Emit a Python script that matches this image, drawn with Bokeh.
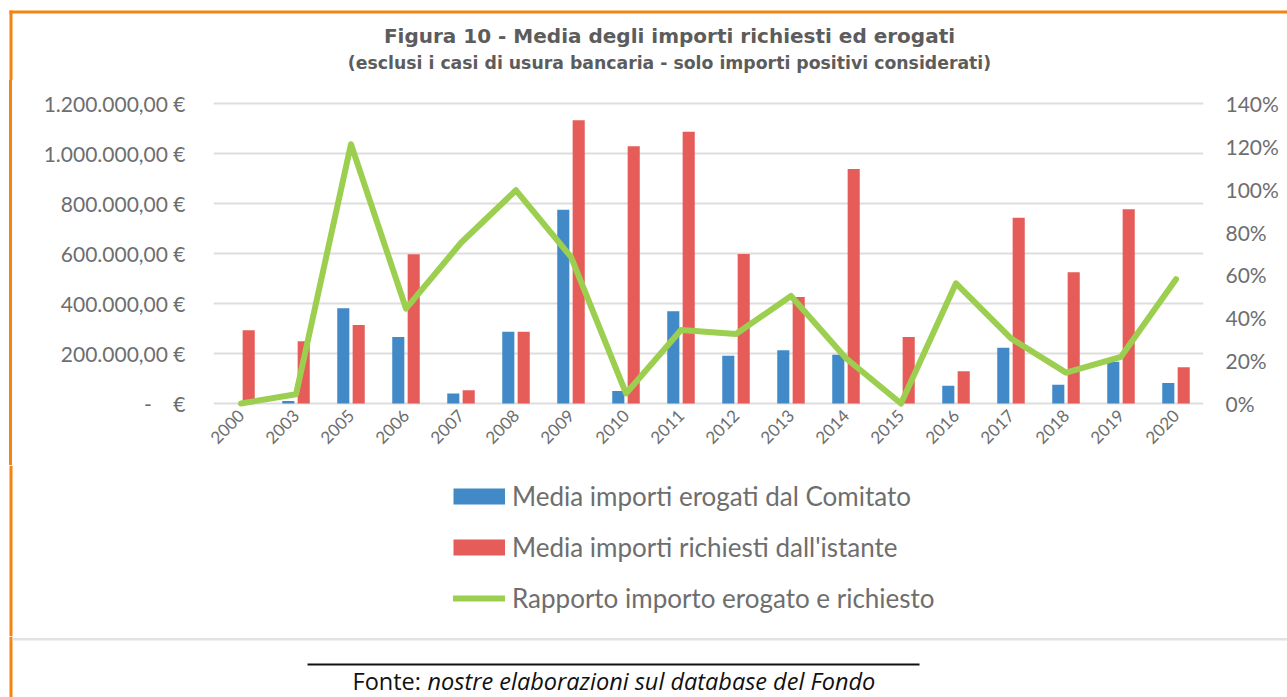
import math
from bokeh.plotting import figure
from bokeh.layouts import column, row
from bokeh.models import (FactorRange, Range1d, LinearAxis, FixedTicker, Legend,
                          LegendItem, ColumnDataSource, Div)
from bokeh.transform import dodge
from bokeh.core.properties import value
from bokeh.embed import file_html
from bokeh.resources import INLINE

# ---------------- data ----------------
years = ["2000", "2003", "2005", "2006", "2007", "2008", "2009", "2010", "2011",
         "2012", "2013", "2014", "2015", "2016", "2017", "2018", "2019", "2020"]
erogati = [0, 10000, 381000, 266000, 40000, 287000, 775000, 50000, 369000,
           191000, 213000, 195000, 0, 71000, 223000, 75000, 167000, 82000]
richiesti = [293000, 249000, 314000, 597000, 53000, 287000, 1133000, 1029000, 1087000,
             598000, 426000, 938000, 266000, 129000, 743000, 525000, 777000, 145000]
rapporto = [0, 4.3, 121, 44.3, 75, 99.5, 68.4, 4.7, 34.3,
            32.4, 50.2, 21.1, 0, 56.1, 30.4, 14.4, 21.8, 58]

left_ticks = [0, 200000, 400000, 600000, 800000, 1000000, 1200000]
left_tick_labels = ["-\u00a0\u00a0\u00a0\u00a0€", "200.000,00 €", "400.000,00 €",
                    "600.000,00 €", "800.000,00 €", "1.000.000,00 €", "1.200.000,00 €"]
right_ticks = [0, 20, 40, 60, 80, 100, 120, 140]
right_tick_labels = ["0%", "20%", "40%", "60%", "80%", "100%", "120%", "140%"]

series_names = ["Media importi erogati dal Comitato",
                "Media importi richiesti dall'istante",
                "Rapporto importo erogato e richiesto"]
title_text = "Figura 10 - Media degli importi richiesti ed erogati"
subtitle_text = "(esclusi i casi di usura bancaria - solo importi positivi considerati)"
source_label = "Fonte:"
source_text = "nostre elaborazioni sul database del Fondo"

# ---------------- style ----------------
BLUE = "#4189C7"
RED = "#E55C58"
GREEN = "#9CCF4F"
ORANGE = "#F5830F"
TXT = "#6e6e6e"
TITLE_C = "#5c5c5c"
GRID = "#dedede"
FONT = "Lato"
WTOT = 1287


def deco_fig(w, h):
    """A figure whose frame is the whole canvas, in pixel units (y downward)."""
    f = figure(width=w, height=h, x_range=Range1d(0, w), y_range=Range1d(h, 0),
               min_border=0, x_axis_location=None, y_axis_location=None,
               toolbar_location=None, output_backend="svg")
    f.outline_line_color = None
    f.background_fill_color = "white"
    f.border_fill_color = "white"
    for g in f.grid:
        g.visible = False
    return f


# ---------------- header ----------------
HH = 80
header = deco_fig(WTOT, HH)
header.quad(left=[9], right=[WTOT], top=[10], bottom=[13], fill_color=ORANGE, line_color=None)
header.quad(left=[9], right=[12], top=[10], bottom=[HH], fill_color=ORANGE, line_color=None)
header.text(x=[669], y=[35], text=[title_text], text_align="center",
            text_baseline="middle", text_font=value("DejaVu Sans"),
            text_font_style="bold", text_font_size="20px", text_color=TITLE_C)
header.text(x=[669], y=[62], text=[subtitle_text], text_align="center",
            text_baseline="middle", text_font=value("DejaVu Sans"),
            text_font_style="bold", text_font_size="17.3px", text_color=TITLE_C)

# ---------------- main chart ----------------
MH = 385           # main figure height (y 80..465)
STRIP = 13
strip = Div(width=STRIP, height=MH, margin=0,
            text='<div style="margin-left:9px;width:3px;height:%dpx;'
                 'background:%s"></div>' % (MH, ORANGE))

p = figure(width=WTOT - STRIP, height=MH,
           x_range=FactorRange(factors=years),
           y_range=Range1d(-20000, 1212000),
           output_backend="svg", toolbar_location=None,
           min_border_left=200, min_border_right=84,
           min_border_top=20, min_border_bottom=57)
p.extra_y_ranges = {"pct": Range1d(-7.0 / 3.0, 141.4)}
p.outline_line_color = None
p.background_fill_color = "white"
p.border_fill_color = "white"

src = ColumnDataSource(dict(year=years, erogati=erogati, richiesti=richiesti,
                            rapporto=rapporto))

p.vbar(x=dodge("year", -0.14, range=p.x_range), top="erogati", width=0.22,
       source=src, fill_color=BLUE, line_color=None)
p.vbar(x=dodge("year", 0.14, range=p.x_range), top="richiesti", width=0.22,
       source=src, fill_color=RED, line_color=None)
p.line(x="year", y="rapporto", source=src, y_range_name="pct",
       line_width=6, line_color=GREEN, line_join="round", line_cap="round")

p.xgrid.grid_line_color = None
p.ygrid.ticker = FixedTicker(ticks=left_ticks)
p.ygrid.grid_line_color = GRID
p.ygrid.grid_line_width = 2

yax = p.yaxis[0]
yax.ticker = FixedTicker(ticks=left_ticks)
yax.major_label_overrides = {t: l for t, l in zip(left_ticks, left_tick_labels)}
yax.axis_line_color = None
yax.major_tick_line_color = None
yax.minor_tick_line_color = None
yax.major_tick_out = 0
yax.major_label_standoff = 28
yax.major_label_text_font = FONT
yax.major_label_text_font_size = "21px"
yax.major_label_text_color = TXT

rax = LinearAxis(y_range_name="pct", ticker=FixedTicker(ticks=right_ticks))
rax.major_label_overrides = {t: l for t, l in zip(right_ticks, right_tick_labels)}
rax.axis_line_color = None
rax.major_tick_line_color = None
rax.minor_tick_line_color = None
rax.major_tick_out = 0
rax.major_label_standoff = 22
rax.major_label_text_font = FONT
rax.major_label_text_font_size = "21px"
rax.major_label_text_color = TXT
p.add_layout(rax, "right")

xax = p.xaxis[0]
xax.axis_line_color = None
xax.major_tick_line_color = None
xax.minor_tick_line_color = None
xax.major_tick_out = 0
xax.major_label_orientation = math.pi / 4
xax.major_label_standoff = 4
xax.major_label_text_font = FONT
xax.major_label_text_font_size = "17px"
xax.major_label_text_color = TXT

# ---------------- legend ----------------
LH = 171          # y 465..636
lfig = deco_fig(WTOT, LH)
lfig.quad(left=[9], right=[12], top=[0], bottom=[LH], fill_color=ORANGE, line_color=None)
# legend proxies (drawn off-canvas)
lg1 = lfig.line(x=[-60, -40], y=[-60, -60], line_width=16, line_color=BLUE, line_cap="butt")
lg2 = lfig.line(x=[-60, -40], y=[-60, -60], line_width=16, line_color=RED, line_cap="butt")
lg3 = lfig.line(x=[-60, -40], y=[-60, -60], line_width=6, line_color=GREEN, line_cap="round")
legend = Legend(items=[LegendItem(label=series_names[0], renderers=[lg1]),
                       LegendItem(label=series_names[1], renderers=[lg2]),
                       LegendItem(label=series_names[2], renderers=[lg3])],
                location=(453, 22), orientation="vertical",
                glyph_width=52, glyph_height=32, label_height=32,
                label_standoff=7, spacing=19, padding=0, margin=0,
                border_line_color=None, background_fill_alpha=0,
                label_text_font=FONT, label_text_font_size="26px",
                label_text_color=TXT)
lfig.add_layout(legend)

# ---------------- footer ----------------
FH = 697 - 80 - MH - LH   # 61, y 636..697
footer = deco_fig(WTOT, FH)
footer.quad(left=[9], right=[12], top=[0], bottom=[FH], fill_color=ORANGE, line_color=None)
footer.quad(left=[12], right=[WTOT], top=[1.5], bottom=[4], fill_color="#e2e2e2", line_color=None)
footer.quad(left=[307], right=[919], top=[27], bottom=[29], fill_color="#111111", line_color=None)
footer.text(x=[352], y=[44], text=[source_label], text_align="left",
            text_baseline="middle", text_font=value("Open Sans"),
            text_font_size="23.5px", text_color="#111111")
footer.text(x=[427], y=[44], text=[source_text], text_align="left",
            text_baseline="middle", text_font=value("Open Sans"),
            text_font_style="italic", text_font_size="23.5px", text_color="#111111")

layout = column(header, row(strip, p), lfig, footer)
open("out.html", "w").write(file_html(layout, INLINE))
